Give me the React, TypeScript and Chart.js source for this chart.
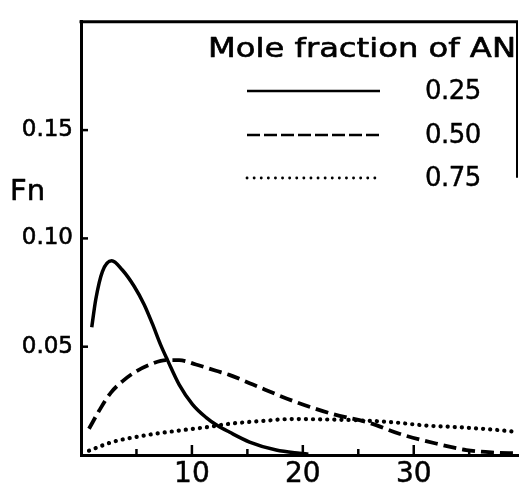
import React, { useEffect, useRef } from 'react';
import { Chart, registerables } from 'chart.js';

Chart.register(...registerables);

// ---- data ----
const xMajorTicks = [10, 20, 30];
const xMinorTicks = [5, 15, 25, 35];
const yTickValues = [0.05, 0.1, 0.15];
const yTickLabels = ['0.05', '0.10', '0.15'];
const seriesLabels = ['0.25', '0.50', '0.75'];
const legendTitle = 'Mole fraction of AN';
const yAxisTitle = 'Fn';

const n025 = [0.97, 1.33, 1.93, 2.77, 3.73, 4.79, 5.69, 6.44, 7.2, 7.8, 8.85, 10.05, 11.26, 12.3, 13.37, 15.2, 17.6, 19.7, 20.5];
const f025 = [0.059, 0.0718, 0.0847, 0.0897, 0.0854, 0.0779, 0.0695, 0.0605, 0.0506, 0.0438, 0.0325, 0.0234, 0.0174, 0.0136, 0.0106, 0.006, 0.0023, 0.0008, 0.0004];

const n050 = [0.72, 1.63, 2.68, 3.73, 4.94, 6.3, 7.65, 8.85, 10.36, 12.17, 13.37, 15.5, 19.1, 22.7, 26.0, 28.7, 32.0, 34.75, 37.0, 39.4];
const f050 = [0.0121, 0.0204, 0.0287, 0.034, 0.0385, 0.0419, 0.0438, 0.0438, 0.0418, 0.0389, 0.037, 0.0325, 0.025, 0.0189, 0.0148, 0.0098, 0.0053, 0.0023, 0.0012, 0.0008];

const n075 = [0.72, 2.83, 5.84, 8.85, 11.56, 13.37, 16.08, 19.1, 22.1, 25.1, 28.1, 31.1, 34.1, 37.2, 39.4];
const f075 = [0.002, 0.006, 0.0091, 0.0113, 0.013, 0.0144, 0.0156, 0.0166, 0.0164, 0.016, 0.0151, 0.0136, 0.0128, 0.0117, 0.0106];

const FONT = '"DejaVu Sans", sans-serif';

const toPts = (xs: number[], ys: number[]) => xs.map((x, i) => ({ x, y: ys[i] }));

const drawBoldText = (ctx: CanvasRenderingContext2D, s: string, x: number, y: number, sw: number) => {
  ctx.fillText(s, x, y);
  ctx.lineWidth = sw;
  ctx.setLineDash([]);
  ctx.lineJoin = 'round';
  ctx.strokeText(s, x, y);
};

const decorPlugin = {
  id: 'decor',
  afterDraw(chart: any) {
    const ctx = chart.ctx as CanvasRenderingContext2D;
    const xs = chart.scales.x;
    const ys = chart.scales.y;
    const ca = chart.chartArea;
    ctx.save();
    ctx.strokeStyle = '#000';
    ctx.fillStyle = '#000';
    ctx.lineCap = 'butt';
    // inner tick marks
    ctx.lineWidth = 2.5;
    xMajorTicks.forEach((v) => {
      const px = xs.getPixelForValue(v);
      ctx.beginPath();
      ctx.moveTo(px, ca.bottom);
      ctx.lineTo(px, ca.bottom - 10);
      ctx.stroke();
    });
    xMinorTicks.forEach((v) => {
      const px = xs.getPixelForValue(v);
      ctx.beginPath();
      ctx.moveTo(px, ca.bottom);
      ctx.lineTo(px, ca.bottom - 6);
      ctx.stroke();
    });
    yTickValues.forEach((v) => {
      const py = ys.getPixelForValue(v);
      ctx.beginPath();
      ctx.moveTo(ca.left - 1, py);
      ctx.lineTo(ca.left + 7, py);
      ctx.stroke();
    });
    // top and right frame
    ctx.lineWidth = 3;
    ctx.beginPath();
    ctx.moveTo(ca.left - 1.5, ca.top);
    ctx.lineTo(ca.right, ca.top);
    ctx.stroke();
    ctx.lineWidth = 2;
    ctx.beginPath();
    ctx.moveTo(ca.right - 1, ca.top);
    ctx.lineTo(ca.right - 1, ys.getPixelForValue(0.128));
    ctx.stroke();

    // y axis title
    ctx.font = `29px ${FONT}`;
    ctx.textAlign = 'left';
    ctx.textBaseline = 'alphabetic';
    drawBoldText(ctx, yAxisTitle, 10, 200, 0.6);

    // legend title
    ctx.font = `26px ${FONT}`;
    const titleW = ctx.measureText(legendTitle).width;
    const targetW = 308;
    ctx.save();
    ctx.translate(208, 57);
    ctx.scale(targetW / titleW, 1);
    drawBoldText(ctx, legendTitle, 0, 0, 0.6);
    ctx.restore();

    // legend rows
    const rows = [
      { y: 91, dash: [] as number[], cap: 'butt', w: 2.5 },
      { y: 135, dash: [13, 4], cap: 'butt', w: 2.5 },
      { y: 178, dash: [0.1, 7], cap: 'round', w: 2.8 },
    ];
    rows.forEach((r, i) => {
      ctx.lineWidth = r.w;
      ctx.setLineDash(r.dash);
      ctx.lineCap = r.cap as CanvasLineCap;
      ctx.beginPath();
      ctx.moveTo(247, r.y);
      ctx.lineTo(380, r.y);
      ctx.stroke();
      ctx.setLineDash([]);
      ctx.lineCap = 'butt';
      ctx.font = `26px ${FONT}`;
      ctx.textBaseline = 'middle';
      (ctx as any).letterSpacing = '-0.5px';
      drawBoldText(ctx, seriesLabels[i], 425, r.y + 1, 0.4);
      (ctx as any).letterSpacing = '0px';
    });
    ctx.restore();
  },
};

export default function App() {
  const ref = useRef<HTMLCanvasElement | null>(null);
  useEffect(() => {
    document.body.style.margin = '0';
    const canvas = ref.current!;
    const chart = new Chart(canvas, {
      type: 'line',
      data: {
        datasets: [
          {
            label: seriesLabels[0],
            data: toPts(n025, f025),
            borderColor: '#000',
            borderWidth: 3.5,
            pointRadius: 0,
            cubicInterpolationMode: 'monotone',
            fill: false,
          },
          {
            label: seriesLabels[1],
            data: toPts(n050, f050),
            borderColor: '#000',
            borderWidth: 3.8,
            borderDash: [13, 6],
            pointRadius: 0,
            cubicInterpolationMode: 'monotone',
            fill: false,
          },
          {
            label: seriesLabels[2],
            data: toPts(n075, f075),
            borderColor: '#000',
            borderWidth: 4.2,
            borderDash: [0.1, 7],
            borderCapStyle: 'round',
            pointRadius: 0,
            cubicInterpolationMode: 'monotone',
            fill: false,
          },
        ],
      },
      options: {
        animation: false,
        responsive: false,
        maintainAspectRatio: false,
        layout: { padding: { top: 14, right: 2, left: 0, bottom: 0 } },
        plugins: { legend: { display: false }, tooltip: { enabled: false } },
        scales: {
          x: {
            type: 'linear',
            min: 0,
            max: 39.4,
            afterBuildTicks: (s: any) => {
              s.ticks = xMajorTicks.map((v) => ({ value: v }));
            },
            afterFit: (s: any) => {
              s.height = 30;
            },
            grid: { display: false, drawTicks: false },
            border: { display: true, color: '#000', width: 3 },
            ticks: {
              color: '#000',
              font: { family: FONT, size: 28 },
              textStrokeColor: '#000',
              textStrokeWidth: 0.5,
              padding: 3,
              maxRotation: 0,
              autoSkip: false,
              callback: (v: any) => String(v),
            },
          },
          y: {
            type: 'linear',
            min: 0,
            max: 0.2,
            afterBuildTicks: (s: any) => {
              s.ticks = yTickValues.map((v) => ({ value: v }));
            },
            afterFit: (s: any) => {
              s.width = 81;
            },
            grid: { display: false, drawTicks: false },
            border: { display: true, color: '#000', width: 3 },
            ticks: {
              color: '#000',
              font: { family: FONT, size: 23 },
              textStrokeColor: '#000',
              textStrokeWidth: 0.6,
              padding: 8,
              autoSkip: false,
              callback: (v: any) => {
                const i = yTickValues.findIndex((t) => Math.abs(t - v) < 1e-9);
                return i >= 0 ? yTickLabels[i] : '';
              },
            },
          },
        },
      },
      plugins: [decorPlugin],
    } as any);
    return () => chart.destroy();
  }, []);
  return (
    <div style={{ width: 520, height: 485, position: 'relative', background: '#fff' }}>
      <canvas ref={ref} width={520} height={485} style={{ display: 'block', width: 520, height: 485 }} />
    </div>
  );
}
